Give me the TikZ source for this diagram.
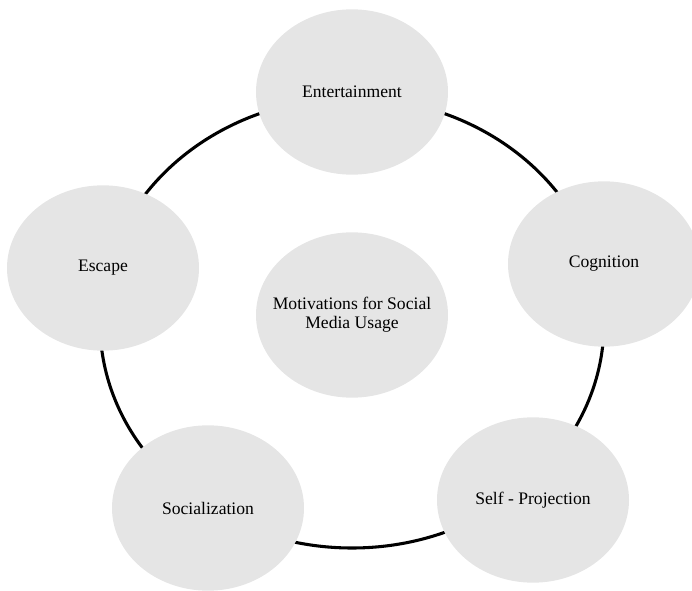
\documentclass[tikz,border=0pt]{standalone}
\usepackage{fontspec}
\setmainfont{Liberation Serif}
\usepackage{tikz}
\usetikzlibrary{shapes.geometric}

\begin{document}
\begin{tikzpicture}[x=0.75pt, y=-0.75pt,
    motive/.style={ellipse, fill=black!10, minimum width=144pt, minimum height=124pt,
      inner sep=0pt, align=center, font=\fontsize{13.2}{14.5}\selectfont}]
\useasboundingbox (0,0) rectangle (692,591);
\coordinate (hub) at (352,323);
\draw[line width=2.3pt] (hub) ellipse [x radius=189pt, y radius=168.75pt];

\node[motive, inner xsep=-10pt] (m_C) at (352,315) {Motivations for Social\\Media Usage};
\node[motive] (m_E) at (352,92) {Entertainment};
\node[motive] (m_K) at (604,264) {Cognition};
\node[motive] (m_P) at (533,500) {Self - Projection};
\node[motive] (m_S) at (208,508) {Socialization};
\node[motive] (m_X) at (103,268) {Escape};
\end{tikzpicture}
\end{document}
